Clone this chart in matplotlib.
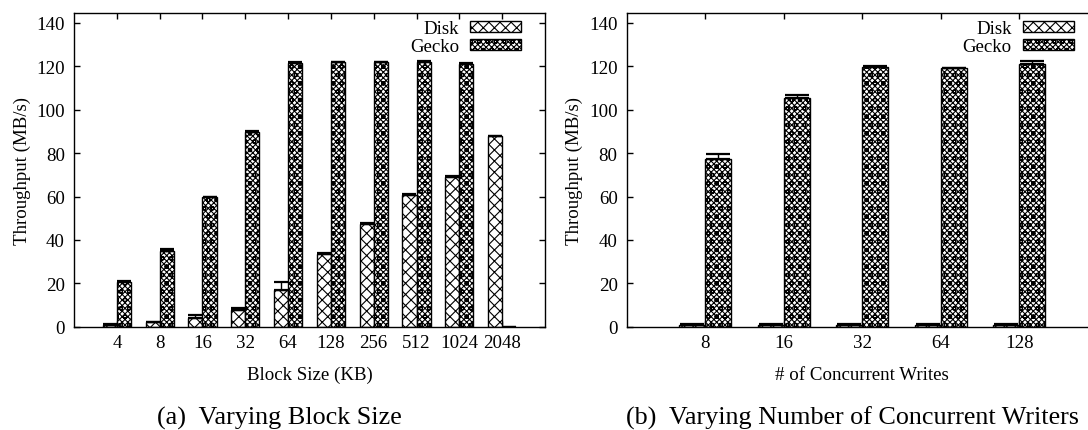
import numpy as np
import matplotlib
matplotlib.use("Agg")
import matplotlib.pyplot as plt

plt.rcParams['font.family'] = ['Liberation Serif', 'DejaVu Serif']
plt.rcParams['hatch.linewidth'] = 0.8

# ---- data: panel (a) ----
block_sizes = ["4", "8", "16", "32", "64", "128", "256", "512", "1024", "2048"]
disk_a = [0.9, 2.0, 4.0, 7.8, 16.8, 33.5, 47.4, 60.9, 69.2, 87.8]
disk_a_err = [0.3, 0.3, 1.4, 0.7, 3.9, 0.3, 0.3, 0.3, 0.3, 0.3]
gecko_a = [20.7, 35.0, 59.7, 89.9, 121.6, 121.9, 121.9, 122.2, 121.1, 0.0]
gecko_a_err = [0.3, 0.9, 0.3, 0.4, 0.4, 0.3, 0.3, 0.3, 0.3, 0.0]

# ---- data: panel (b) ----
writers = ["8", "16", "32", "64", "128"]
disk_b = [0.9, 0.9, 0.9, 0.9, 0.9]
disk_b_err = [0.2, 0.2, 0.2, 0.2, 0.2]
gecko_b = [77.3, 105.3, 119.6, 119.1, 120.9]
gecko_b_err = [2.3, 1.5, 0.4, 0.3, 1.4]

series_names = ["Disk", "Gecko"]
yticks = [0, 20, 40, 60, 80, 100, 120, 140]

FS = 13.6
W = 1088.0
H = 431.0
fig = plt.figure(figsize=(W / 100, H / 100), dpi=100)

ax_bottom = (H - 327.7) / H
ax_h = 313.7 / H
ax_w = 471.0 / W
axA = fig.add_axes([74.0 / W, ax_bottom, ax_w, ax_h])
axB = fig.add_axes([626.7 / W, ax_bottom, ax_w, ax_h])

DISK_HATCH = 'xxx'
GECKO_HATCH = 'xxxxxxoo'


def draw(ax, cats, disk, disk_err, gecko, gecko_err, capsize, xlabel):
    x = np.arange(len(cats))
    bw = 0.33
    ax.set_axisbelow(True)
    ax.bar(x - bw / 2, disk, bw, color='white', edgecolor='black',
           hatch=DISK_HATCH, linewidth=1.0, label=series_names[0], zorder=2)
    ax.bar(x + bw / 2, gecko, bw, color='white', edgecolor='black',
           hatch=GECKO_HATCH, linewidth=1.0, label=series_names[1], zorder=2)
    ax.errorbar(x - bw / 2, disk, yerr=[np.zeros(len(x)), disk_err], fmt='none',
                ecolor='black', elinewidth=1.0, capsize=capsize, capthick=1.6, zorder=3)
    ax.errorbar(x + bw / 2, gecko, yerr=[np.zeros(len(x)), gecko_err], fmt='none',
                ecolor='black', elinewidth=1.0, capsize=capsize, capthick=1.6, zorder=3)
    ax.set_xlim(-1, len(cats))
    ax.set_ylim(0, 144.6)
    ax.set_xticks(x)
    ax.set_xticklabels(cats)
    ax.set_yticks(yticks)
    ax.tick_params(axis='both', which='both', direction='in', length=4.5, width=1.0,
                   labelsize=FS, top=True, right=True, pad=6.5)
    ax.tick_params(axis='x', pad=5.5)
    for s in ax.spines.values():
        s.set_linewidth(1.0)
    ax.set_xlabel(xlabel, fontsize=FS)
    ax.xaxis.set_label_coords(0.5, -0.125)
    ax.set_ylabel("Throughput (MB/s)", fontsize=FS)
    ax.yaxis.set_label_coords(-0.092, 0.5)
    ax.legend(loc='upper right', bbox_to_anchor=(0.95, 0.978), frameon=False,
              markerfirst=False, fontsize=FS, handlelength=2.7, handleheight=0.5,
              handletextpad=0.6, labelspacing=0.08, borderpad=0, borderaxespad=0)


draw(axA, block_sizes, disk_a, disk_a_err, gecko_a, gecko_a_err, 5, "Block Size (KB)")
draw(axB, writers, disk_b, disk_b_err, gecko_b, gecko_b_err, 8.6, "# of Concurrent Writes")
# panel (b) extends slightly past the figure edge, as in the original
axB.set_xlim(-1, 5)

fig.text(279 / W, 1 - 418 / H, "(a)  Varying Block Size", fontsize=18.8,
         ha='center', va='center')
fig.text(853 / W, 1 - 418 / H, "(b)  Varying Number of Concurrent Writers", fontsize=18.8,
         ha='center', va='center')

fig.savefig("out.png", dpi=100)
